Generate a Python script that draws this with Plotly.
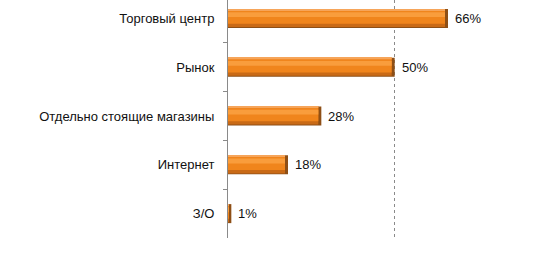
import plotly.graph_objects as go

categories = ["Торговый центр", "Рынок", "Отдельно стоящие магазины", "Интернет", "З/О"]
values = [66, 50, 28, 18, 1]
value_labels = ["66%", "50%", "28%", "18%", "1%"]

cap = 0.9  # width of dark end cap, in % units
body = [max(v - cap, 0) for v in values]

fig = go.Figure()
W = 0.39
# dark end cap / bottom edge (full bar)
fig.add_trace(go.Bar(y=categories, x=values, orientation="h", width=W,
                     marker=dict(color="#8E4F16", line=dict(width=0)), hoverinfo="skip"))
# bottom shade
fig.add_trace(go.Bar(y=categories, x=body, orientation="h", width=W - 0.02, offset=-W / 2,
                     marker=dict(color="#C96A16", line=dict(width=0)), hoverinfo="skip"))
# main body
fig.add_trace(go.Bar(y=categories, x=body, orientation="h", width=0.30, offset=-W / 2,
                     marker=dict(color="#F0851C", line=dict(width=0)), hoverinfo="skip"))
# top thin light line
fig.add_trace(go.Bar(y=categories, x=body, orientation="h", width=0.03, offset=-W / 2,
                     marker=dict(color="#F6A55A", line=dict(width=0)), hoverinfo="skip"))
# highlight band
fig.add_trace(go.Bar(y=categories, x=body, orientation="h", width=0.10, offset=-0.13,
                     marker=dict(color="#F99D3C", line=dict(width=0)), hoverinfo="skip"))

for c, v, t in zip(categories, values, value_labels):
    fig.add_annotation(x=v, y=c, text=t, showarrow=False, xanchor="left", xshift=5,
                       font=dict(size=13, color="#111111"))

fig.update_layout(
    width=550, height=264,
    margin=dict(l=228, r=0, t=0, b=26),
    barmode="overlay", showlegend=False,
    paper_bgcolor="white", plot_bgcolor="white",
    font=dict(family="Liberation Sans, Arial, sans-serif", size=13, color="#111111"),
)
fig.update_xaxes(range=[0, 96.6], dtick=50, showgrid=True, gridcolor="#8a8a8a",
                 griddash="3px,3px", gridwidth=1, showticklabels=False, zeroline=False,
                 showline=False, ticks="")
fig.update_yaxes(type="category", range=[4.5, -0.38], showline=True, linecolor="#8a8a8a",
                 linewidth=1, ticks="outside", tickson="boundaries", ticklen=4,
                 tickcolor="#8a8a8a", showgrid=False, ticklabelstandoff=10)

fig.write_html("out.html")
